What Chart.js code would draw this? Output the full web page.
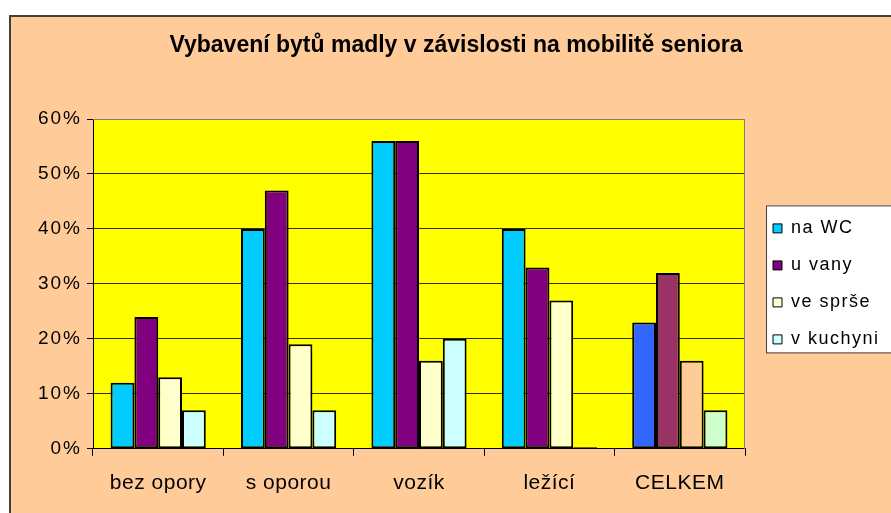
<!DOCTYPE html>
<html>
<head>
<meta charset="utf-8">
<script src="https://cdn.jsdelivr.net/npm/chart.js@4/dist/chart.umd.min.js"></script>
<style>
  html, body { margin: 0; padding: 0; background: #ffffff; }
  canvas { display: block; }
</style>
</head>
<body>
<canvas id="madlaChart" width="891" height="513"></canvas>
<script>
// Data
const categories = ['bez opory', 's oporou', 'vozík', 'ležící', 'CELKEM'];
const seriesNames = ['na WC', 'u vany', 've sprše', 'v kuchyni'];
const naWC = [12, 40, 56, 40, 23];
const uVany = [24, 47, 56, 33, 32];
const veSprse = [13, 19, 16, 27, 16];
const vKuchyni = [7, 7, 20, 0.3, 7];
const yMax = 60;
const yStep = 10;

// Colours: first four groups share a palette, CELKEM uses another one
const mainColors = ['#00CCFF', '#800080', '#FFFFCC', '#CCFFFF'];
const totalColors = ['#3366FF', '#993366', '#FFCC99', '#CCFFCC'];

const colorsFor = (i) => categories.map((c, k) => k === categories.length - 1 ? totalColors[i] : mainColors[i]);

const FONT = '"Liberation Sans", Arial, sans-serif';

// run a draw method with a given letter spacing (the original text is a bit stretched)
const withSpacing = (chart, obj, name, spacing) => {
    if (!obj || obj['_spaced_' + name]) return;
    const orig = obj[name].bind(obj);
    obj[name] = function (...args) {
        const old = chart.ctx.letterSpacing;
        chart.ctx.letterSpacing = spacing;
        orig(...args);
        chart.ctx.letterSpacing = old;
    };
    obj['_spaced_' + name] = true;
};

// Background, plot area and legend frame
const framePlugin = {
    id: 'frame',
    beforeDraw: (chart) => {
        const ctx = chart.ctx;
        const area = chart.chartArea;
        ctx.save();
        ctx.fillStyle = '#ffffff';
        ctx.fillRect(0, 0, chart.width, chart.height);
        ctx.fillStyle = '#FFCC99';
        ctx.fillRect(10, 16, chart.width, chart.height);
        ctx.strokeStyle = '#404040';
        ctx.lineWidth = 2;
        ctx.strokeRect(10, 16, chart.width + 20, chart.height + 20);
        ctx.fillStyle = '#FFFF00';
        ctx.fillRect(area.left, area.top, area.right - area.left, area.bottom - area.top);

        // legend box
        const boxes = chart.legend.legendHitBoxes;
        if (boxes.length) {
            const first = boxes[0];
            const last = boxes[boxes.length - 1];
            const top = first.top - 14;
            const bottom = last.top + last.height + 4;
            ctx.fillStyle = '#ffffff';
            ctx.fillRect(first.left - 7, top, chart.width, bottom - top);
            ctx.strokeStyle = '#404040';
            ctx.lineWidth = 1;
            ctx.strokeRect(first.left - 6.5, top + 0.5, chart.width, bottom - top);
        }
        ctx.restore();
    },
    beforeDatasetsDraw: (chart) => {
        const ctx = chart.ctx;
        const area = chart.chartArea;
        ctx.save();
        ctx.strokeStyle = '#808080';
        ctx.lineWidth = 1;
        ctx.beginPath();
        ctx.moveTo(area.left, area.top + 0.5);
        ctx.lineTo(area.right - 0.5, area.top + 0.5);
        ctx.lineTo(area.right - 0.5, area.bottom);
        ctx.stroke();
        ctx.restore();
    },
    afterLayout: (chart) => {
        // legend sits a bit away from the plot area, centred on it
        const legend = chart.legend;
        legend.left += 9;
        legend.top = chart.chartArea.top;
        legend.bottom = chart.chartArea.bottom;
        legend.height = legend.bottom - legend.top;
        withSpacing(chart, legend, 'draw', '1.5px');
        withSpacing(chart, chart.scales.y, 'drawLabels', '2px');
        withSpacing(chart, chart.scales.x, 'drawLabels', '0.5px');
    }
};

// Keep the legend column at a fixed width
const legendWidthPlugin = {
    id: 'legendWidth',
    afterInit: (chart) => {
        const legend = chart.legend;
        const fit = legend.fit.bind(legend);
        legend.fit = function () {
            fit();
            this.width = 146;
        };
    }
};

const makeDataset = (label, values, i) => ({
    label: label,
    data: values,
    backgroundColor: colorsFor(i),
    borderColor: '#000000',
    borderWidth: 2,
    borderSkipped: false,
    categoryPercentage: 0.73,
    barPercentage: 1.0
});

const ctx = document.getElementById('madlaChart').getContext('2d');
const madlaChart = new Chart(ctx, {
    type: 'bar',
    data: {
        labels: categories,
        datasets: [
            makeDataset(seriesNames[0], naWC, 0),
            makeDataset(seriesNames[1], uVany, 1),
            makeDataset(seriesNames[2], veSprse, 2),
            makeDataset(seriesNames[3], vKuchyni, 3)
        ]
    },
    options: {
        responsive: false,
        animation: false,
        layout: {
            padding: { left: 21, right: 0, top: 0, bottom: 2 }
        },
        plugins: {
            title: {
                display: true,
                text: 'Vybavení bytů madly v závislosti na mobilitě seniora',
                color: '#000000',
                font: { family: FONT, size: 23, weight: 'bold' },
                padding: { top: 32, bottom: 59.4 }
            },
            legend: {
                position: 'right',
                align: 'center',
                labels: {
                    color: '#000000',
                    font: { family: FONT, size: 18 },
                    boxWidth: 9,
                    boxHeight: 9,
                    padding: 19,
                    generateLabels: (chart) => chart.data.datasets.map((ds, i) => ({
                        text: ds.label,
                        fillStyle: mainColors[i],
                        strokeStyle: '#000000',
                        lineWidth: 1,
                        hidden: false,
                        datasetIndex: i,
                        fontColor: '#000000'
                    }))
                }
            },
            tooltip: { enabled: false }
        },
        scales: {
            x: {
                grid: {
                    display: true,
                    drawOnChartArea: false,
                    drawTicks: true,
                    tickLength: 7,
                    tickColor: '#000000',
                    offset: true
                },
                border: { display: true, color: '#000000', width: 1 },
                ticks: {
                    color: '#000000',
                    font: { family: FONT, size: 21 },
                    padding: 15,
                    maxRotation: 0
                }
            },
            y: {
                min: 0,
                max: yMax,
                afterFit: (scale) => { scale.width = 72; },
                grid: {
                    color: (c) => c.tick && c.tick.value === yMax ? '#808080' : '#333300',
                    lineWidth: 1,
                    tickLength: 6,
                    tickColor: '#000000'
                },
                border: { display: true, color: '#000000', width: 1 },
                ticks: {
                    stepSize: yStep,
                    color: '#000000',
                    font: { family: FONT, size: 19 },
                    padding: 5,
                    callback: (v) => v + '%'
                }
            }
        }
    },
    plugins: [framePlugin, legendWidthPlugin]
});
</script>
</body>
</html>
